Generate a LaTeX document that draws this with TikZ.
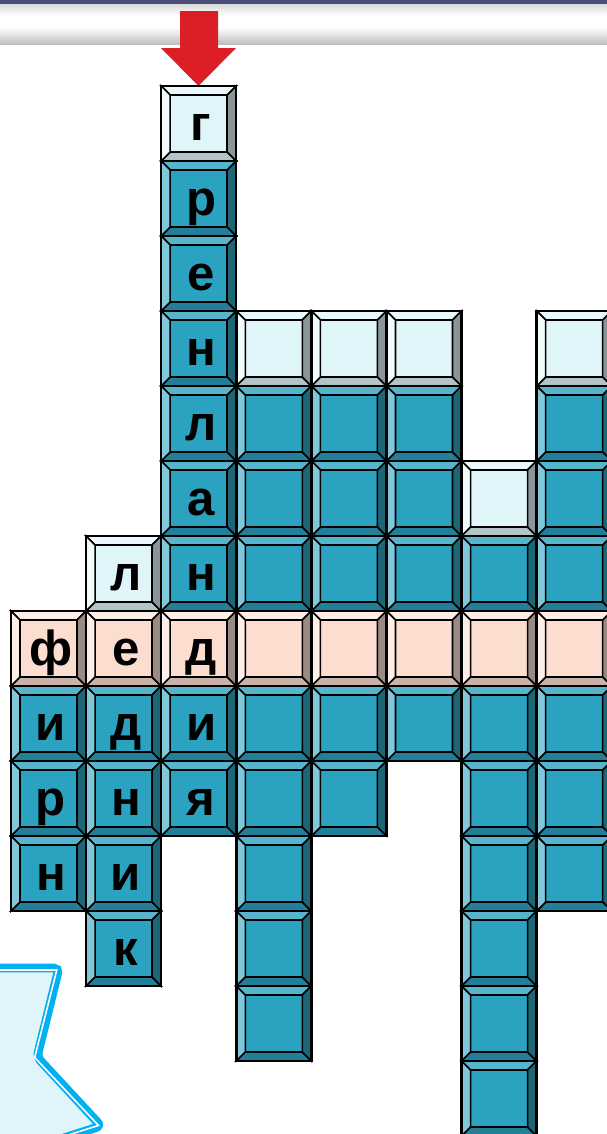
\documentclass[tikz,border=0pt]{standalone}
\usepackage{fontspec}
\setmainfont{Liberation Sans}
\definecolor{tealface}{HTML}{2BA2BF}
\definecolor{tealtop}{HTML}{56B5CD}
\definecolor{tealleft}{HTML}{80C7D9}
\definecolor{tealright}{HTML}{1D6675}
\definecolor{tealbottom}{HTML}{237F99}
\definecolor{iceface}{HTML}{DFF5FA}
\definecolor{icetop}{HTML}{EAF9FC}
\definecolor{iceleft}{HTML}{F3FBFD}
\definecolor{iceright}{HTML}{8A9599}
\definecolor{icebottom}{HTML}{B3C3C7}
\definecolor{peachface}{HTML}{FBDECF}
\definecolor{peachtop}{HTML}{FDEEE7}
\definecolor{peachleft}{HTML}{FDEEE8}
\definecolor{peachright}{HTML}{998A83}
\definecolor{peachbottom}{HTML}{C9B2A7}
\definecolor{arrowred}{HTML}{DC1F26}
\definecolor{topband}{HTML}{4A4E78}
\definecolor{calloutline}{HTML}{00B0F0}
\definecolor{calloutfill}{HTML}{DFF5FA}
\begin{document}
\begin{tikzpicture}[
  x=0.02cm, y=-0.02cm,
  letter/.style={anchor=base, inner sep=0pt, font=\fontsize{28}{30}\selectfont\bfseries},
  bevelline/.style={draw=black, line width=0.9pt, line join=miter},
  pics/cell/.style={code={
    \filldraw[bevelline, fill=#1face] (9,9) rectangle (66,66);
    \filldraw[bevelline, fill=#1top] (0,0) -- (75,0) -- (66,9) -- (9,9) -- cycle;
    \filldraw[bevelline, fill=#1bottom] (0,75) -- (75,75) -- (66,66) -- (9,66) -- cycle;
    \filldraw[bevelline, fill=#1left] (0,0) -- (9,9) -- (9,66) -- (0,75) -- cycle;
    \filldraw[bevelline, fill=#1right] (75,0) -- (66,9) -- (66,66) -- (75,75) -- cycle;
    \draw[line width=1.4pt] (0,0) rectangle (75,75);
  }}
]
\useasboundingbox (0,0) rectangle (607,1134);
\clip (0,0) rectangle (607,1134);
\fill[white] (0,0) rectangle (607,1134);

\fill[topband] (0,0) rectangle (607,4);
\shade[top color=gray!30, bottom color=white] (0,4) rectangle (607,15);
\fill[white] (0,15) rectangle (607,27);
\shade[top color=white, bottom color=gray!50] (0,27) rectangle (607,44);

\fill[arrowred] (180,11) -- (218,11) -- (218,48) -- (236,48) -- (198.5,86) -- (161,48) -- (180,48) -- cycle;

\filldraw[fill=calloutfill, draw=calloutline, line width=5pt, rounded corners=3]
  (-20,968) -- (59,968) -- (37,1057) -- (101,1126) -- (-20,1165) -- cycle;
\draw[white, line width=0.9pt] (-20,970) -- (56.8,970) -- (34.7,1057.5) -- (98.5,1125.4) -- (-20,1163);

\foreach \c/\rows in {0/{8,9,10}, 1/{8,9,10,11}, 2/{1,2,3,4,5,6,8,9}, 3/{4,5,6,8,9,10,11,12},
    4/{4,5,6,8,9}, 5/{4,5,6,8}, 6/{6,8,9,10,11,12,13}, 7/{4,5,6,8,9,10}}
  \foreach \r in \rows
    \pic at ({11+75.1*\c},{86+75*\r}) {cell=teal};
\foreach \c/\r in {2/0, 1/6, 3/3, 4/3, 5/3, 6/5, 7/3}
  \pic at ({11+75.1*\c},{86+75*\r}) {cell=ice};
\foreach \c in {0,...,7}
  \pic at ({11+75.1*\c},{86+75*7}) {cell=peach};

\foreach \c/\r/\t in {2/0/г, 2/1/р, 2/2/е, 2/3/н, 2/4/л, 2/5/а, 2/6/н, 2/7/д, 2/8/и, 2/9/я,
    0/7/ф, 1/7/е, 0/8/и, 0/9/р, 0/10/н, 1/6/л, 1/8/д, 1/9/н, 1/10/и, 1/11/к}
  \node[letter] (w\c-\r) at ({11+75.1*\c+40},{86+75*\r+54}) {\t};
\end{tikzpicture}
\end{document}
